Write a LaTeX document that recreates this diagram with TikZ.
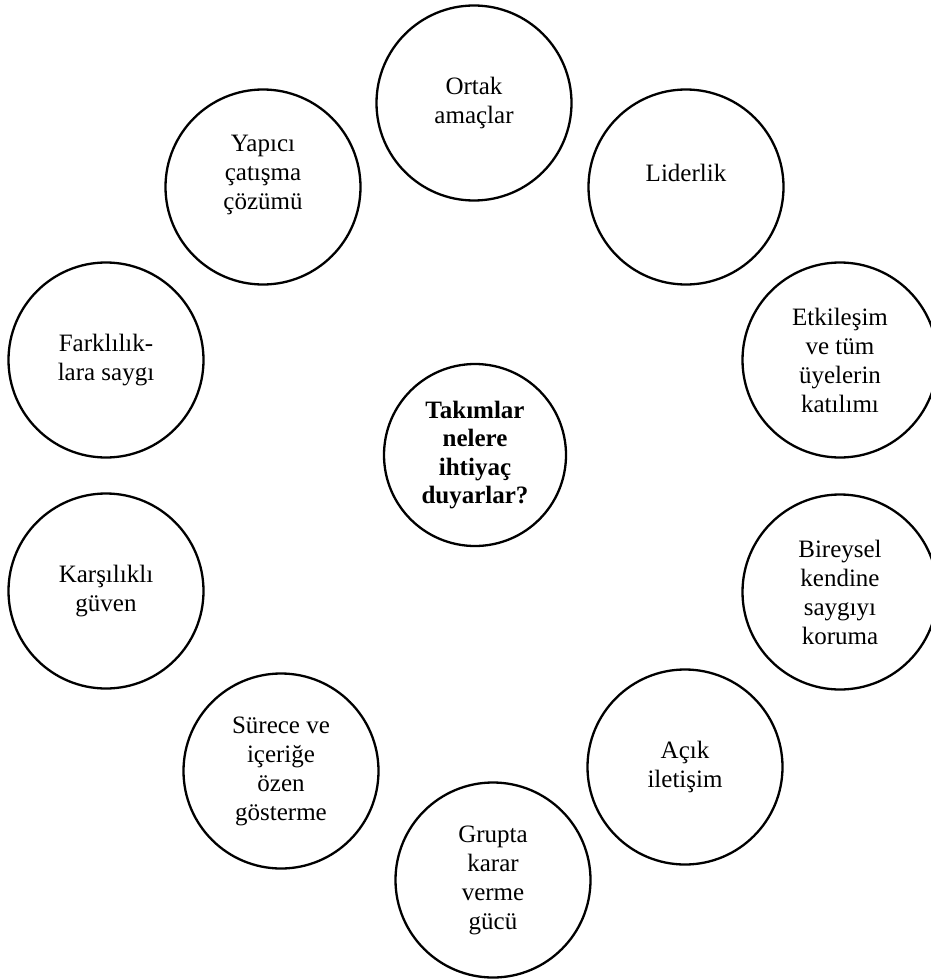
\documentclass[tikz,border=0pt]{standalone}
\usepackage{fontspec}
\setmainfont{Liberation Serif}
\begin{document}
\begin{tikzpicture}[x=1pt,y=-1pt,
  bubble/.style={draw=black,line width=2.3pt,circle,inner sep=0pt,minimum size=195pt,
    align=center,font=\fontsize{25}{29}\selectfont},
  hub/.style={bubble,minimum size=182pt,font=\fontsize{25}{28.5}\selectfont\bfseries}]
\useasboundingbox (0,0) rectangle (930,979);
\node[hub] (c) at (475,455) {Takımlar\\nelere\\ihtiyaç\\duyarlar?};
\node[bubble] (n1) at (474,103) {Ortak\\amaçlar};
\node[bubble] (n2) at (686,187) {Liderlik\\\mbox{}};
\node[bubble] (n3) at (840,360) {Etkileşim\\ve tüm\\üyelerin\\katılımı};
\node[bubble] (n4) at (840,592) {Bireysel\\kendine\\saygıyı\\koruma};
\node[bubble] (n5) at (685,767) {Açık\\iletişim};
\node[bubble] (n6) at (493,880) {Grupta\\karar\\verme\\gücü};
\node[bubble] (n7) at (281,771) {Sürece ve\\içeriğe\\özen\\gösterme};
\node[bubble] (n8) at (106,591) {Karşılıklı\\güven};
\node[bubble] (n9) at (106,360) {Farklılık-\\lara saygı};
\node[bubble] (n10) at (263,187) {Yapıcı\\çatışma\\çözümü\\\mbox{}};
\end{tikzpicture}
\end{document}
